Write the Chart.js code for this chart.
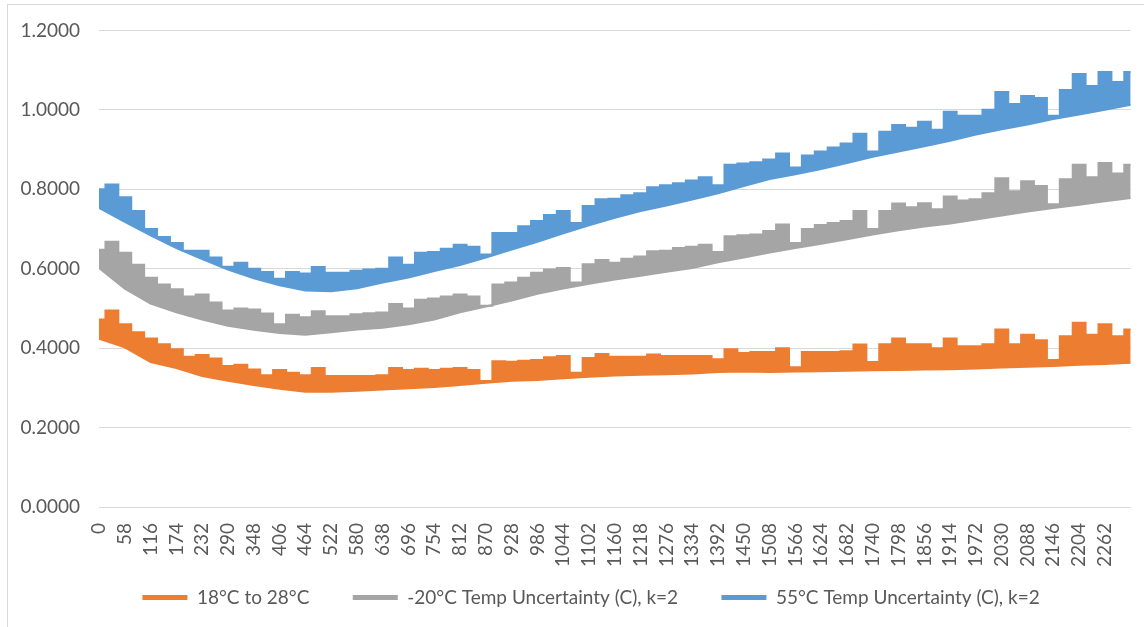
<!DOCTYPE html>
<html>
<head>
<meta charset="utf-8">
<script src="https://cdn.jsdelivr.net/npm/chart.js@4.4.0/dist/chart.umd.min.js"></script>
<style>
    html, body { margin: 0; padding: 0; background: #fff; }
    #wrap { position: relative; width: 1144px; height: 627px; overflow: hidden; }
    #frame { position: absolute; left: 7px; top: 4px; width: 1145px; height: 630px; border: 1px solid #d9d9d9; box-sizing: border-box; pointer-events: none; }
    canvas { position: absolute; left: 0; top: 0; }
</style>
</head>
<body>
<div id="wrap"><canvas id="chart" width="1144" height="627"></canvas><div id="frame"></div></div>
<script>
// x positions (sample index) for the top edge of each band, and for the smooth bottom edge
const xUpper = [0, 29, 58, 87, 116, 145, 174, 203, 232, 261,
    290, 319, 348, 377, 406, 435, 464, 493, 522, 551,
    580, 609, 638, 667, 696, 725, 754, 783, 812, 841,
    870, 899, 928, 957, 986, 1015, 1044, 1073, 1102, 1131,
    1160, 1189, 1218, 1247, 1276, 1305, 1334, 1363, 1392, 1421,
    1450, 1479, 1508, 1537, 1566, 1595, 1624, 1653, 1682, 1711,
    1740, 1769, 1798, 1827, 1856, 1885, 1914, 1943, 1972, 2001,
    2030, 2059, 2088, 2117, 2146, 2175, 2204, 2233, 2262, 2291,
    2320];
const xLower = [0, 58, 116, 174, 232, 290, 348, 406, 464, 522,
    580, 638, 696, 754, 812, 870, 928, 986, 1044, 1102,
    1160, 1218, 1276, 1334, 1392, 1450, 1508, 1566, 1624, 1682,
    1740, 1798, 1856, 1914, 1972, 2030, 2088, 2146, 2204, 2262,
    2320];

const seriesNames = ['18°C to 28°C', '-20°C Temp Uncertainty (C), k=2', '55°C Temp Uncertainty (C), k=2'];

// 18°C to 28°C
const orangeHigh = [0.472, 0.495, 0.460, 0.440, 0.424, 0.410, 0.397, 0.378, 0.383, 0.374,
    0.355, 0.358, 0.346, 0.332, 0.345, 0.338, 0.332, 0.350, 0.330, 0.330,
    0.330, 0.330, 0.332, 0.350, 0.345, 0.348, 0.345, 0.348, 0.350, 0.345,
    0.317, 0.367, 0.366, 0.368, 0.370, 0.377, 0.380, 0.338, 0.375, 0.385,
    0.378, 0.378, 0.378, 0.384, 0.380, 0.380, 0.380, 0.380, 0.372, 0.397,
    0.388, 0.390, 0.390, 0.400, 0.352, 0.390, 0.390, 0.390, 0.392, 0.409,
    0.365, 0.410, 0.424, 0.410, 0.410, 0.400, 0.424, 0.405, 0.405, 0.410,
    0.447, 0.410, 0.434, 0.420, 0.370, 0.430, 0.464, 0.434, 0.460, 0.430,
    0.447];
const orangeLow = [0.424, 0.402, 0.365, 0.350, 0.330, 0.318, 0.307, 0.298, 0.290, 0.290,
    0.293, 0.296, 0.299, 0.302, 0.307, 0.313, 0.318, 0.320, 0.324, 0.328,
    0.331, 0.333, 0.334, 0.336, 0.340, 0.341, 0.340, 0.341, 0.342, 0.343,
    0.344, 0.345, 0.346, 0.347, 0.349, 0.351, 0.353, 0.355, 0.358, 0.360,
    0.363];

// -20°C
const grayHigh = [0.648, 0.668, 0.640, 0.610, 0.577, 0.560, 0.548, 0.530, 0.535, 0.515,
    0.495, 0.500, 0.497, 0.487, 0.460, 0.484, 0.478, 0.493, 0.480, 0.480,
    0.485, 0.488, 0.490, 0.511, 0.500, 0.522, 0.525, 0.530, 0.535, 0.530,
    0.507, 0.560, 0.565, 0.577, 0.590, 0.598, 0.602, 0.565, 0.611, 0.622,
    0.615, 0.625, 0.631, 0.644, 0.645, 0.652, 0.655, 0.660, 0.642, 0.682,
    0.684, 0.686, 0.695, 0.711, 0.665, 0.700, 0.710, 0.715, 0.720, 0.745,
    0.700, 0.745, 0.764, 0.755, 0.765, 0.750, 0.782, 0.772, 0.775, 0.790,
    0.828, 0.795, 0.820, 0.808, 0.762, 0.825, 0.862, 0.830, 0.866, 0.840,
    0.862];
const grayLow = [0.602, 0.550, 0.512, 0.490, 0.472, 0.456, 0.446, 0.438, 0.434, 0.440,
    0.447, 0.451, 0.460, 0.472, 0.490, 0.505, 0.520, 0.537, 0.550, 0.562,
    0.573, 0.582, 0.592, 0.602, 0.616, 0.628, 0.641, 0.652, 0.663, 0.674,
    0.686, 0.697, 0.706, 0.714, 0.724, 0.734, 0.744, 0.753, 0.761, 0.770,
    0.778];

// 55°C
const blueHigh = [0.800, 0.812, 0.780, 0.745, 0.700, 0.680, 0.665, 0.645, 0.645, 0.628,
    0.605, 0.615, 0.600, 0.592, 0.575, 0.592, 0.588, 0.604, 0.590, 0.590,
    0.595, 0.598, 0.600, 0.628, 0.610, 0.640, 0.642, 0.650, 0.660, 0.655,
    0.636, 0.690, 0.690, 0.707, 0.720, 0.735, 0.745, 0.715, 0.758, 0.775,
    0.776, 0.785, 0.790, 0.805, 0.810, 0.815, 0.822, 0.830, 0.810, 0.862,
    0.865, 0.868, 0.875, 0.890, 0.855, 0.885, 0.895, 0.905, 0.915, 0.940,
    0.895, 0.945, 0.962, 0.955, 0.970, 0.950, 0.995, 0.985, 0.985, 1.000,
    1.045, 1.015, 1.035, 1.030, 0.985, 1.050, 1.090, 1.060, 1.095, 1.070,
    1.095];
const blueLow = [0.753, 0.718, 0.684, 0.652, 0.624, 0.598, 0.576, 0.558, 0.545, 0.543,
    0.551, 0.565, 0.578, 0.594, 0.609, 0.628, 0.648, 0.668, 0.689, 0.709,
    0.728, 0.745, 0.759, 0.774, 0.790, 0.808, 0.826, 0.838, 0.851, 0.866,
    0.882, 0.895, 0.908, 0.922, 0.938, 0.951, 0.963, 0.977, 0.988, 1.000,
    1.013];

const colors = ['#ED7D31', '#A5A5A5', '#5B9BD5'];
const textColor = '#595959';
const gridColor = '#d9d9d9';

function band(name, color, high, low) {
    const top = {
        label: name,
        data: xUpper.map((x, i) => ({ x: x, y: high[i] })),
        borderColor: color, backgroundColor: color,
        borderWidth: 2, pointRadius: 0, stepped: 'middle',
        fill: '+1'
    };
    const bottom = {
        label: name + ' low',
        isLower: true,
        data: xLower.map((x, i) => ({ x: x, y: low[i] })),
        borderColor: color, backgroundColor: color,
        borderWidth: 2, pointRadius: 0, tension: 0,
        fill: false
    };
    return [top, bottom];
}

const datasets = [
    ...band(seriesNames[0], colors[0], orangeHigh, orangeLow),
    ...band(seriesNames[1], colors[1], grayHigh, grayLow),
    ...band(seriesNames[2], colors[2], blueHigh, blueLow)
];

const fontFamily = 'Lato, "Liberation Sans", sans-serif';

new Chart(document.getElementById('chart'), {
    type: 'line',
    data: { datasets },
    options: {
        responsive: false,
        animation: false,
        devicePixelRatio: 1,
        layout: { padding: { left: 0, right: 10, top: 29, bottom: 10 } },
        scales: {
            x: {
                type: 'linear', min: 0, max: 2320,
                grid: { display: false, drawTicks: false },
                border: { display: false },
                ticks: {
                    stepSize: 58, autoSkip: false, minRotation: 90, maxRotation: 90,
                    padding: 16, color: textColor, font: { family: fontFamily, size: 19 },
                    callback: v => (v > 2262 ? null : String(v))
                },
                afterFit: s => { s.height = 71; }
            },
            y: {
                min: 0, max: 1.2,
                grid: { color: gridColor, lineWidth: 1, drawTicks: false },
                border: { display: false },
                ticks: {
                    stepSize: 0.2, padding: 19, color: textColor,
                    font: { family: fontFamily, size: 19 },
                    callback: v => v.toFixed(4)
                },
                afterFit: s => { s.width = 99; }
            }
        },
        plugins: {
            tooltip: { enabled: false },
            legend: {
                position: 'bottom',
                fullSize: false,
                labels: {
                    color: textColor, boxWidth: 45, boxHeight: 5, padding: 10,
                    font: { family: fontFamily, size: 19 },
                    filter: (item, data) => !data.datasets[item.datasetIndex].isLower,
                    generateLabels: chart => {
                        const items = Chart.defaults.plugins.legend.labels.generateLabels(chart);
                        return items.map(it => {
                            it.text = it.text + (it.datasetIndex < 4 ? '\u2003\u2003 ' : '\u2003\u2003\u2003 ');
                            it.lineWidth = 0;
                            return it;
                        });
                    }
                }
            }
        }
    }
});
</script>
</body>
</html>
